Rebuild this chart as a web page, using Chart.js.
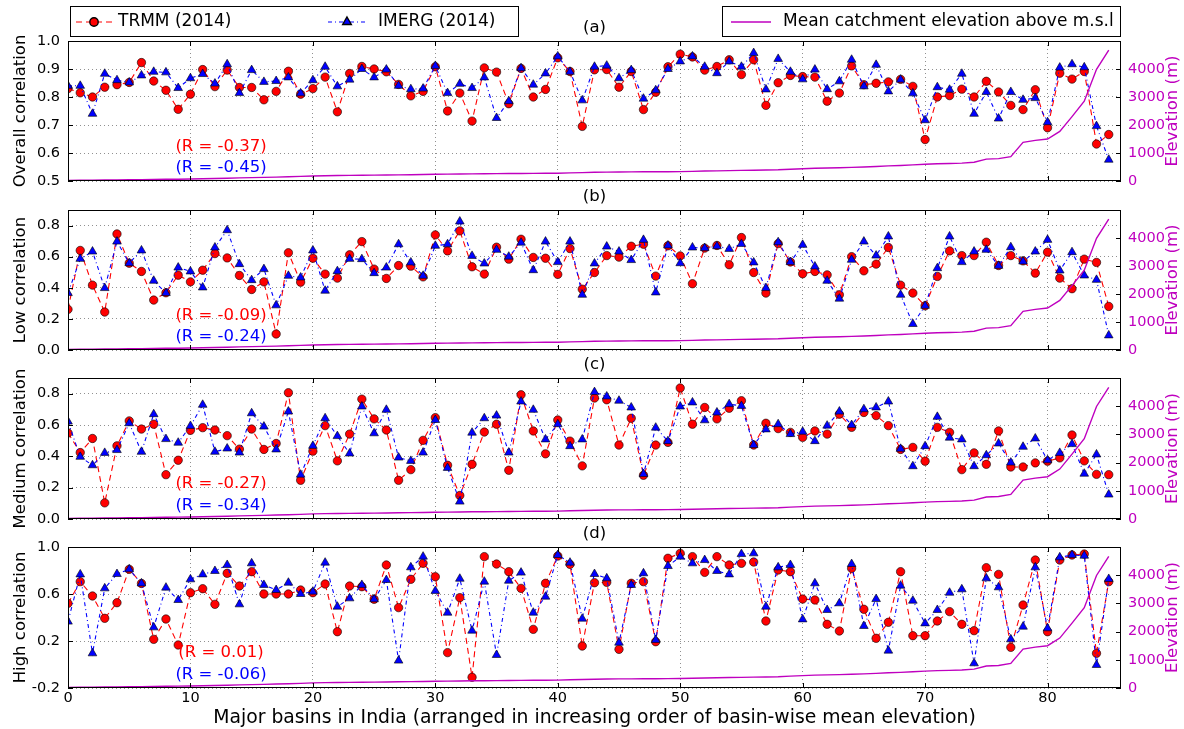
<!DOCTYPE html>
<html><head><meta charset="utf-8">
<script src="https://cdn.jsdelivr.net/npm/chart.js@4.4.0/dist/chart.umd.min.js"></script>
<style>
html,body{margin:0;padding:0;background:#fff;}
#wrap{position:relative;width:1184px;height:729px;overflow:hidden;background:#fff;}
canvas{position:absolute;left:0;top:0;width:1184px;height:729px;}
</style></head><body><div id="wrap">
<canvas id="c0" width="1184" height="729"></canvas>
<canvas id="c1" width="1184" height="729"></canvas>
<canvas id="c2" width="1184" height="729"></canvas>
<canvas id="c3" width="1184" height="729"></canvas>
</div>
<script>
// ---- data ----
const basins = Array.from({length: 86}, (_, i) => i);
const xTicks = [0, 10, 20, 30, 40, 50, 60, 70, 80];
const elevTicks = [0, 1000, 2000, 3000, 4000];
const ticksA = [0.5, 0.6, 0.7, 0.8, 0.9, 1.0];
const ticksB = [0.0, 0.2, 0.4, 0.6, 0.8];
const ticksC = [0.0, 0.2, 0.4, 0.6, 0.8];
const ticksD = [-0.2, 0.2, 0.6, 1.0];

const elevation = [20,25,30,35,40,45,50,55,60,65, 70,80,90,100,110,120,130,140,150,165,
  180,190,195,200,205,210,215,220,225,230, 240,245,250,255,258,262,266,270,273,275,
  278,290,300,310,318,322,325,328,330,333, 336,345,355,362,370,378,385,392,400,420,
  440,455,465,475,485,500,520,540,555,575, 600,615,625,640,670,780,800,870,1380,1450,
  1500,1770,2300,2850,3990,4670];

const trmmA = [0.83,0.815,0.80,0.835,0.844,0.852,0.923,0.857,0.824,0.756, 0.81,0.898,0.837,0.896,0.834,0.834,0.79,0.82,0.892,0.81,
  0.83,0.871,0.747,0.884,0.909,0.90,0.89,0.845,0.804,0.82, 0.908,0.75,0.814,0.714,0.904,0.889,0.776,0.902,0.80,0.827,
  0.94,0.891,0.695,0.897,0.898,0.835,0.891,0.755,0.817,0.908, 0.953,0.943,0.896,0.909,0.933,0.88,0.933,0.77,0.851,0.877,
  0.873,0.871,0.785,0.814,0.911,0.844,0.849,0.854,0.863,0.838, 0.648,0.80,0.805,0.828,0.80,0.856,0.818,0.77,0.755,0.826,
  0.69,0.885,0.864,0.891,0.632,0.666];
const imergA = [0.84,0.84,0.74,0.883,0.86,0.852,0.877,0.89,0.888,0.832, 0.867,0.882,0.848,0.917,0.814,0.896,0.854,0.857,0.87,0.813,
  0.86,0.908,0.838,0.862,0.90,0.87,0.898,0.84,0.828,0.83, 0.911,0.814,0.847,0.832,0.87,0.725,0.785,0.903,0.844,0.884,
  0.945,0.89,0.788,0.908,0.912,0.867,0.896,0.794,0.824,0.90, 0.927,0.945,0.908,0.885,0.927,0.908,0.957,0.827,0.936,0.89,
  0.863,0.898,0.828,0.856,0.933,0.838,0.915,0.82,0.862,0.813, 0.717,0.835,0.826,0.883,0.74,0.818,0.723,0.818,0.79,0.796,
  0.71,0.905,0.917,0.906,0.696,0.576];

const trmmB = [0.261,0.64,0.417,0.244,0.746,0.558,0.505,0.321,0.368,0.481, 0.438,0.513,0.62,0.592,0.479,0.389,0.438,0.103,0.625,0.436,
  0.59,0.488,0.462,0.612,0.697,0.52,0.46,0.543,0.539,0.47, 0.74,0.637,0.766,0.535,0.488,0.661,0.584,0.712,0.595,0.59,
  0.486,0.652,0.391,0.498,0.607,0.597,0.667,0.68,0.475,0.67, 0.605,0.426,0.655,0.672,0.548,0.723,0.498,0.366,0.684,0.566,
  0.49,0.505,0.483,0.355,0.60,0.509,0.552,0.659,0.417,0.366, 0.284,0.473,0.637,0.607,0.607,0.693,0.543,0.607,0.573,0.494,
  0.629,0.462,0.394,0.584,0.563,0.28];
const imergB = [0.366,0.586,0.633,0.398,0.697,0.558,0.64,0.445,0.366,0.53, 0.505,0.402,0.659,0.77,0.552,0.449,0.52,0.287,0.477,0.466,
  0.64,0.381,0.507,0.586,0.584,0.494,0.53,0.68,0.563,0.477, 0.67,0.68,0.826,0.605,0.556,0.644,0.60,0.69,0.513,0.697,
  0.565,0.697,0.355,0.556,0.665,0.633,0.578,0.708,0.37,0.672, 0.558,0.659,0.655,0.667,0.65,0.682,0.563,0.398,0.693,0.565,
  0.676,0.537,0.445,0.33,0.58,0.697,0.607,0.73,0.355,0.167, 0.284,0.526,0.73,0.565,0.633,0.644,0.541,0.661,0.569,0.633,
  0.708,0.511,0.629,0.479,0.451,0.094];

const trmmC = [0.549,0.424,0.514,0.103,0.467,0.626,0.574,0.605,0.283,0.375, 0.566,0.583,0.568,0.532,0.446,0.574,0.444,0.482,0.806,0.247,
  0.433,0.596,0.371,0.542,0.765,0.639,0.568,0.247,0.315,0.502, 0.647,0.343,0.15,0.349,0.555,0.605,0.311,0.793,0.562,0.416,
  0.632,0.497,0.339,0.772,0.761,0.472,0.643,0.279,0.472,0.489, 0.836,0.605,0.712,0.639,0.707,0.755,0.472,0.611,0.577,0.553,
  0.521,0.562,0.542,0.669,0.585,0.68,0.66,0.596,0.444,0.457, 0.369,0.585,0.553,0.315,0.422,0.349,0.562,0.332,0.332,0.358,
  0.369,0.39,0.536,0.371,0.285,0.283];
const imergC = [0.622,0.397,0.343,0.422,0.44,0.611,0.429,0.669,0.51,0.487, 0.594,0.729,0.429,0.45,0.424,0.675,0.59,0.444,0.686,0.283,
  0.467,0.643,0.529,0.418,0.718,0.547,0.697,0.392,0.371,0.424, 0.632,0.326,0.111,0.551,0.643,0.66,0.424,0.75,0.697,0.508,
  0.605,0.465,0.508,0.81,0.782,0.755,0.712,0.287,0.583,0.497, 0.718,0.744,0.63,0.68,0.733,0.722,0.472,0.572,0.605,0.542,
  0.557,0.497,0.596,0.686,0.60,0.701,0.712,0.75,0.448,0.337, 0.465,0.652,0.519,0.508,0.337,0.407,0.482,0.36,0.461,0.514,
  0.375,0.422,0.478,0.289,0.412,0.156];

const trmmD = [0.52,0.705,0.583,0.393,0.526,0.81,0.69,0.214,0.387,0.166, 0.611,0.645,0.512,0.776,0.668,0.79,0.60,0.60,0.60,0.634,
  0.611,0.685,0.279,0.668,0.662,0.555,0.847,0.484,0.725,0.861, 0.747,0.101,0.569,-0.109,0.918,0.855,0.79,0.648,0.299,0.691,
  0.923,0.852,0.157,0.696,0.699,0.129,0.691,0.705,0.194,0.904, 0.946,0.918,0.784,0.918,0.847,0.861,0.872,0.37,0.804,0.79,
  0.557,0.549,0.342,0.285,0.818,0.47,0.223,0.359,0.79,0.245, 0.245,0.37,0.45,0.342,0.288,0.824,0.767,0.146,0.506,0.889,
  0.279,0.889,0.932,0.94,0.095,0.705];
const imergD = [0.365,0.767,0.095,0.648,0.77,0.81,0.69,0.316,0.654,0.549, 0.725,0.767,0.796,0.847,0.512,0.861,0.677,0.634,0.696,0.60,
  0.62,0.867,0.492,0.563,0.677,0.555,0.719,0.033,0.827,0.918, 0.626,0.441,0.73,0.288,0.705,0.081,0.713,0.782,0.441,0.577,
  0.932,0.867,0.39,0.77,0.733,0.186,0.677,0.776,0.209,0.838, 0.918,0.861,0.889,0.796,0.767,0.94,0.946,0.492,0.827,0.847,
  0.384,0.691,0.464,0.521,0.855,0.328,0.557,0.118,0.671,0.543, 0.35,0.464,0.611,0.64,0.01,0.733,0.657,0.214,0.322,0.827,
  0.308,0.912,0.932,0.926,-0.004,0.728];

const panelLabels = ['(a)', '(b)', '(c)', '(d)'];
const yTitles = ['Overall correlation', 'Low correlation', 'Medium correlation', 'High correlation'];
const rTrmm = ['(R = -0.37)', '(R = -0.09)', '(R = -0.27)', '(R = 0.01)'];
const rImerg = ['(R = -0.45)', '(R = -0.24)', '(R = -0.34)', '(R = -0.06)'];
const seriesNames = ['TRMM (2014)', 'IMERG (2014)', 'Mean catchment elevation above m.s.l'];
const xTitle = 'Major basins in India (arranged in increasing order of basin-wise mean elevation)';
const elevTitle = 'Elevation (m)';

// ---- styling ----
const FONT = 'DejaVu Sans';
Chart.defaults.font.family = FONT;
Chart.defaults.color = '#000';
const RED = '#ff0000', BLUE = '#0000ff', MAG = '#bf00bf';
const RED_DASH = [6, 4], BLUE_DASH = [4, 3, 1, 3];

const decor = {
  id: 'decor',
  afterDraw(chart, args, o) {
    const {ctx, chartArea: a, scales} = chart;
    ctx.save();
    ctx.strokeStyle = '#000';
    ctx.lineWidth = 1;
    const seg = (x1, y1, x2, y2) => { ctx.beginPath(); ctx.moveTo(x1, y1); ctx.lineTo(x2, y2); ctx.stroke(); };
    scales.y.ticks.forEach(t => { const y = Math.round(scales.y.getPixelForValue(t.value)) + 0.5; seg(a.left, y, a.left + 5, y); });
    scales.y2.ticks.forEach(t => { const y = Math.round(scales.y2.getPixelForValue(t.value)) + 0.5; seg(a.right - 5, y, a.right, y); });
    scales.x.ticks.forEach(t => { const x = Math.round(scales.x.getPixelForValue(t.value)) + 0.5; seg(x, a.bottom, x, a.bottom - 5); seg(x, a.top, x, a.top + 5); });
    ctx.strokeRect(a.left + 0.5, a.top + 0.5, a.right - a.left - 1, a.bottom - a.top - 1);

    // panel label
    ctx.fillStyle = '#000';
    ctx.font = '16.5px "' + FONT + '"';
    ctx.textAlign = 'center';
    ctx.textBaseline = 'middle';
    ctx.fillText(o.label, (a.left + a.right) / 2, a.top - 13);

    // correlation annotations
    const h = a.bottom - a.top;
    const xr = scales.x.getPixelForValue(12.5);
    ctx.fillStyle = RED;
    ctx.fillText(o.rRed, xr, a.top + 0.752 * h);
    ctx.fillStyle = BLUE;
    ctx.fillText(o.rBlue, xr, a.top + 0.903 * h);

    // right axis title (reads bottom to top)
    ctx.save();
    ctx.translate(1173, (a.top + a.bottom) / 2);
    ctx.rotate(-Math.PI / 2);
    ctx.fillStyle = MAG;
    ctx.fillText(elevTitle, 0, 0);
    ctx.restore();

    if (o.legend) {
      ctx.lineWidth = 1;
      ctx.fillStyle = '#fff';
      ctx.strokeStyle = '#000';
      ctx.fillRect(70.5, 6.5, 448, 30); ctx.strokeRect(70.5, 6.5, 448, 30);
      ctx.fillRect(722.5, 6.5, 398, 30); ctx.strokeRect(722.5, 6.5, 398, 30);
      const ly = 22;
      ctx.lineWidth = 1.2;
      ctx.strokeStyle = RED; ctx.setLineDash(RED_DASH); seg(76, ly, 113, ly);
      ctx.strokeStyle = BLUE; ctx.setLineDash(BLUE_DASH); seg(328, ly, 367, ly);
      ctx.setLineDash([]);
      ctx.lineWidth = 1.4;
      ctx.strokeStyle = MAG; seg(731, ly, 771, ly);
      ctx.fillStyle = RED; ctx.strokeStyle = '#000';
      Chart.helpers.drawPoint(ctx, {pointStyle: 'circle', radius: 4.2, borderWidth: 0.6}, 94, ly);
      ctx.fillStyle = BLUE; ctx.strokeStyle = '#000';
      Chart.helpers.drawPoint(ctx, {pointStyle: 'triangle', radius: 5, borderWidth: 0.6}, 347, ly);
      ctx.fillStyle = '#000';
      ctx.textAlign = 'left'; ctx.textBaseline = 'middle';
      ctx.font = '17px "' + FONT + '"';
      ctx.fillText(seriesNames[0], 118, ly);
      ctx.fillText(seriesNames[1], 378, ly);
      ctx.fillText(seriesNames[2], 783, ly);
    }
    ctx.restore();
  }
};

function makePanel(k, trmm, imerg, yMin, yMax, yTicks, top, bottom) {
  const showX = k === 3;
  const gridCol = 'rgba(0,0,0,0.55)';
  return new Chart(document.getElementById('c' + k), {
    type: 'line',
    data: {
      datasets: [
        {label: seriesNames[2], data: basins.map((b, i) => ({x: b, y: elevation[i]})), yAxisID: 'y2',
         borderColor: MAG, borderWidth: 1.4, pointRadius: 0, fill: false, tension: 0},
        {label: seriesNames[1], data: basins.map((b, i) => ({x: b, y: imerg[i]})), yAxisID: 'y',
         borderColor: BLUE, borderWidth: 1.1, borderDash: BLUE_DASH, pointStyle: 'triangle', pointRadius: 5,
         pointBackgroundColor: BLUE, pointBorderColor: '#000', pointBorderWidth: 0.6, fill: false, tension: 0},
        {label: seriesNames[0], data: basins.map((b, i) => ({x: b, y: trmm[i]})), yAxisID: 'y',
         borderColor: RED, borderWidth: 1.1, borderDash: RED_DASH, pointStyle: 'circle', pointRadius: 4.2,
         pointBackgroundColor: RED, pointBorderColor: '#000', pointBorderWidth: 0.6, fill: false, tension: 0}
      ]
    },
    options: {
      responsive: false, animation: false, devicePixelRatio: 1,
      events: [],
      layout: {padding: {top: top, bottom: showX ? 0 : 729 - bottom, left: 0, right: 0}},
      plugins: {
        legend: {display: false}, title: {display: false}, tooltip: {enabled: false},
        decor: {label: panelLabels[k], rRed: rTrmm[k], rBlue: rImerg[k], legend: k === 0}
      },
      scales: {
        x: {
          type: 'linear', position: 'bottom', min: 0, max: 86,
          afterBuildTicks: s => { s.ticks = xTicks.map(v => ({value: v})); },
          afterFit: s => { s.height = showX ? 41 : 0; },
          ticks: {display: showX, color: '#000', font: {size: 14.5}, padding: 2, maxRotation: 0, callback: v => String(v)},
          grid: {display: true, color: gridCol, lineWidth: 0.8, drawTicks: false},
          border: {display: false, dash: [1, 3]},
          title: {display: showX, text: xTitle, color: '#000', font: {size: 18.8}, padding: {top: 0, bottom: 0}}
        },
        y: {
          type: 'linear', position: 'left', min: yMin, max: yMax,
          afterBuildTicks: s => { s.ticks = yTicks.map(v => ({value: v})); },
          afterFit: s => { s.width = 68; },
          ticks: {color: '#000', font: {size: 14.5}, padding: 8, callback: v => Number(v).toFixed(1)},
          grid: {display: true, color: gridCol, lineWidth: 0.8, drawTicks: false},
          border: {display: false, dash: [1, 3]},
          title: {display: true, text: yTitles[k], color: '#000', font: {size: 16.5}, padding: {top: 11, bottom: 0}}
        },
        y2: {
          type: 'linear', position: 'right', min: 0, max: 5000,
          afterBuildTicks: s => { s.ticks = elevTicks.map(v => ({value: v})); },
          afterFit: s => { s.width = 63; },
          ticks: {color: MAG, font: {size: 14.5}, padding: 7, callback: v => String(v)},
          grid: {display: false, drawTicks: false},
          border: {display: false}
        }
      }
    },
    plugins: [decor]
  });
}

makePanel(0, trmmA, imergA, 0.5, 1.0, ticksA, 41, 181);
makePanel(1, trmmB, imergB, 0.0, 0.9, ticksB, 210, 350);
makePanel(2, trmmC, imergC, 0.0, 0.9, ticksC, 378, 519);
makePanel(3, trmmD, imergD, -0.2, 1.0, ticksD, 547, 688);
</script>
</body></html>
